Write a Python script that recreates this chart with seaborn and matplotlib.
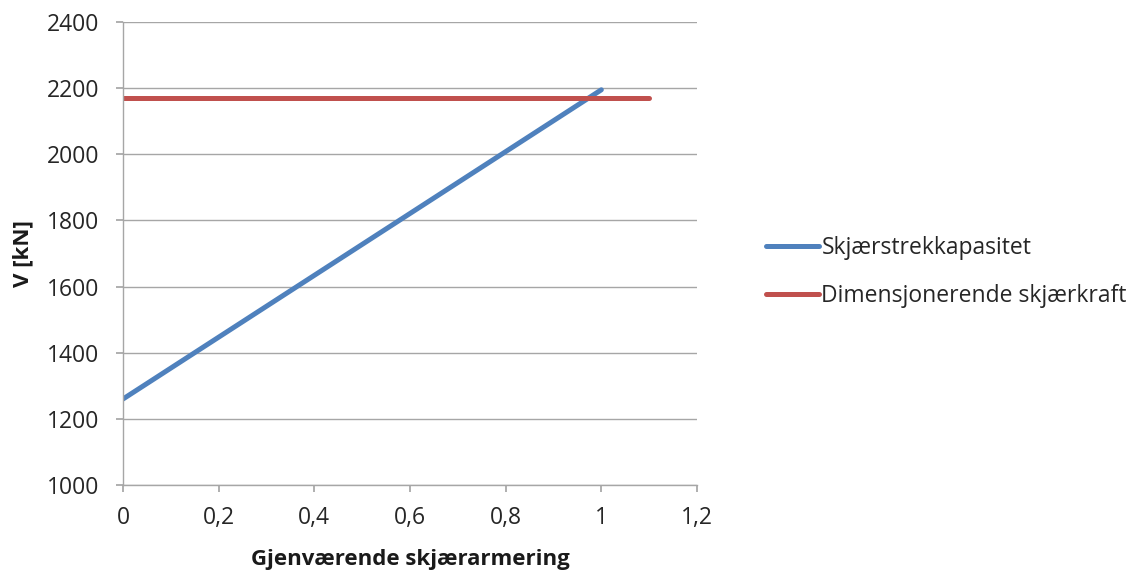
import matplotlib
matplotlib.use("Agg")
import matplotlib.pyplot as plt
import seaborn as sns
import pandas as pd

x_cap = [0, 1]
v_cap = [1260, 2195]
x_dim = [0, 1.1]
v_dim = [2170, 2170]
series_names = ["Skjærstrekkapasitet", "Dimensjonerende skjærkraft"]
colors = ["#4F81BD", "#C0504D"]
xticks = [0, 0.2, 0.4, 0.6, 0.8, 1.0, 1.2]
xtick_labels = ["0", "0,2", "0,4", "0,6", "0,8", "1", "1,2"]
yticks = [1000, 1200, 1400, 1600, 1800, 2000, 2200, 2400]

sns.set_theme(style="white")
plt.rcParams['font.family'] = ['Open Sans', 'DejaVu Sans']

df = pd.concat([
    pd.DataFrame({"x": x_cap, "V": v_cap, "serie": series_names[0]}),
    pd.DataFrame({"x": x_dim, "V": v_dim, "serie": series_names[1]}),
])

fig = plt.figure(figsize=(11.4, 5.73), dpi=100)
ax = fig.add_axes([123/1140, 1 - 485/573, (697-123)/1140, (485-22)/573])
sns.lineplot(data=df, x="x", y="V", hue="serie", palette=colors, linewidth=3.6,
             ax=ax, sort=False, estimator=None)

ax.set_xlim(0, 1.2)
ax.set_ylim(1000, 2400)
ax.set_xticks(xticks)
ax.set_xticklabels(xtick_labels)
ax.set_yticks(yticks)
ax.grid(axis="y", color="#A6A6A6", linewidth=1)
ax.grid(axis="x", visible=False)
for s in ["top", "right"]:
    ax.spines[s].set_visible(False)
for s in ["left", "bottom"]:
    ax.spines[s].set_color("#A6A6A6")
    ax.spines[s].set_linewidth(1)
ax.tick_params(axis="both", which="major", length=5, color="#A6A6A6",
               labelsize=16.5, labelcolor="#262626", direction="out",
               bottom=True, left=True)
ax.tick_params(axis="y", pad=12)
ax.tick_params(axis="x", pad=10)
ax.set_xlabel("Gjenværende skjærarmering", fontsize=16, fontweight="bold",
              color="#1a1a1a", labelpad=14)
ax.set_ylabel("V [kN]", fontsize=16, fontweight="bold", color="#1a1a1a", labelpad=10)

handles, labels = ax.get_legend_handles_labels()
leg = ax.legend(handles, labels, loc="center left",
                bbox_to_anchor=(766/1140, 1 - 272/573),
                bbox_transform=fig.transFigure, frameon=False, fontsize=16.5,
                handlelength=2.3, handletextpad=0.12, labelspacing=1.05,
                borderaxespad=0, borderpad=0)
for t in leg.get_texts():
    t.set_color("#262626")

fig.savefig("out.png", dpi=100)
